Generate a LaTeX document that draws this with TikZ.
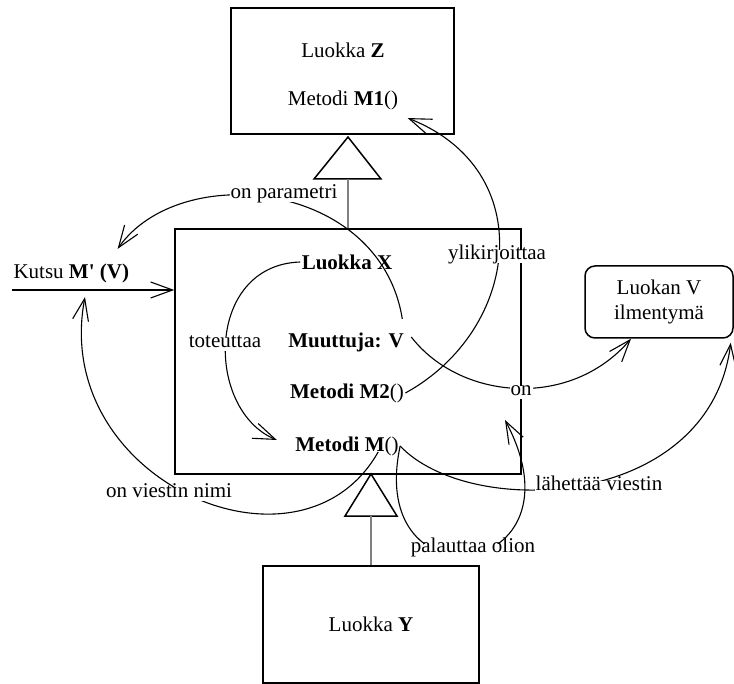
\documentclass[tikz,border=0pt]{standalone}
\usepackage{fontspec}
\setmainfont{Liberation Serif}
\usetikzlibrary{arrows.meta}

\begin{document}
\begin{tikzpicture}[x=1pt,y=-1pt,line width=1.1pt,
  font=\fontsize{21}{25}\selectfont,
  luokka/.style={draw,line width=1.5pt,inner sep=0pt,align=center},
  jasen/.style={inner sep=1pt},
  suhde/.style={fill=white,inner sep=1pt,text height=0.8em,text depth=0.3em},
  nuoli/.style={-{Straight Barb[length=22pt,width=16pt]}},
  periytyy/.style={draw=gray,line width=1.5pt}]
\useasboundingbox (0,0) rectangle (734,684);

% luokat
\node[luokka,minimum width=223pt,minimum height=126pt] (boxz) at (342.5,71) {};
\node[jasen] (luokkaz) at (343,50) {Luokka \textbf{Z}};
\node[jasen] (m1) at (343,100) {Metodi \textbf{M1}()};
\node[luokka,minimum width=346pt,minimum height=245pt] (boxx) at (348,351.5) {};
\node[jasen] (luokkax) at (347,262) {\textbf{Luokka X}};
\node[jasen] (muuttuja) at (346,342) {\textbf{Muuttuja: V}};
\node[jasen] (m2) at (347,393) {\textbf{Metodi M2}()};
\node[jasen] (metm) at (347,446) {\textbf{Metodi M}()};
\node[luokka,minimum width=216pt,minimum height=117pt] (boxy) at (371,624.5) {Luokka \textbf{Y}};
\node[luokka,rounded corners=10pt,minimum width=148pt,minimum height=72pt] (luokanv) at (659,302) {Luokan V\\ilmentymä};
\node[jasen,anchor=west] (kutsu) at (12,273) {Kutsu \textbf{M\textquotesingle{} (V)}};

% periytyminen
\coordinate (zkarki) at (348,137);
\draw[line width=1.5pt] (zkarki) -- ++(33,42) -- ++(-67,0) -- cycle;
\draw[periytyy] ([yshift=-42pt]zkarki) -- (zkarki |- boxx.north);
\coordinate (ykarki) at (371,474);
\draw[line width=1.5pt] (ykarki) -- ++(26,42) -- ++(-52,0) -- cycle;
\draw[periytyy] ([yshift=-42pt]ykarki) -- (boxy.north);

% kutsu
\coordinate (kutsualku) at (12,290);
\draw[nuoli] (kutsualku) -- (kutsualku -| boxx.west);

% suhteet
\draw[nuoli] ([shift={(-3pt,12pt)}]muuttuja.north east) .. controls (380,180) and (180,160) .. ([shift={(-13pt,13pt)}]kutsu.north east);
\draw[nuoli] (luokkax.west) .. controls (205,265) and (205,410) .. ([shift={(-17pt,6pt)}]metm.west);
\draw[nuoli] (m2.east) .. controls (520,330) and (540,170) .. ([shift={(8pt,-7pt)}]m1.south east);
\draw[nuoli] ([shift={(6pt,5pt)}]muuttuja.east) .. controls (460,400) and (570,410) .. ([xshift=-28pt]luokanv.south);
\coordinate (palautus) at (505,420);
\draw[nuoli] (metm.east) .. controls (365,610) and (590,580) .. (palautus);
\draw[nuoli] (metm.east) .. controls (470,520) and (710,510) .. ([shift={(-3pt,-4pt)}]luokanv.south east);
\draw[nuoli] ([shift={(-22pt,-6pt)}]metm.east) .. controls (300,590) and (50,480) .. ([shift={(73pt,-7pt)}]kutsualku);

% nimet
\node[suhde] (param) at (284,196) {on parametri};
\node[suhde] (toteuttaa) at (225,345) {toteuttaa};
\node[suhde] (yli) at (497,257) {ylikirjoittaa};
\node[suhde] (on) at (521,393) {on};
\node[suhde] (lahettaa) at (599,488) {lähettää viestin};
\node[suhde] (palauttaa) at (473,550) {palauttaa olion};
\node[suhde] (viestinnimi) at (169,495) {on viestin nimi};
\end{tikzpicture}
\end{document}
